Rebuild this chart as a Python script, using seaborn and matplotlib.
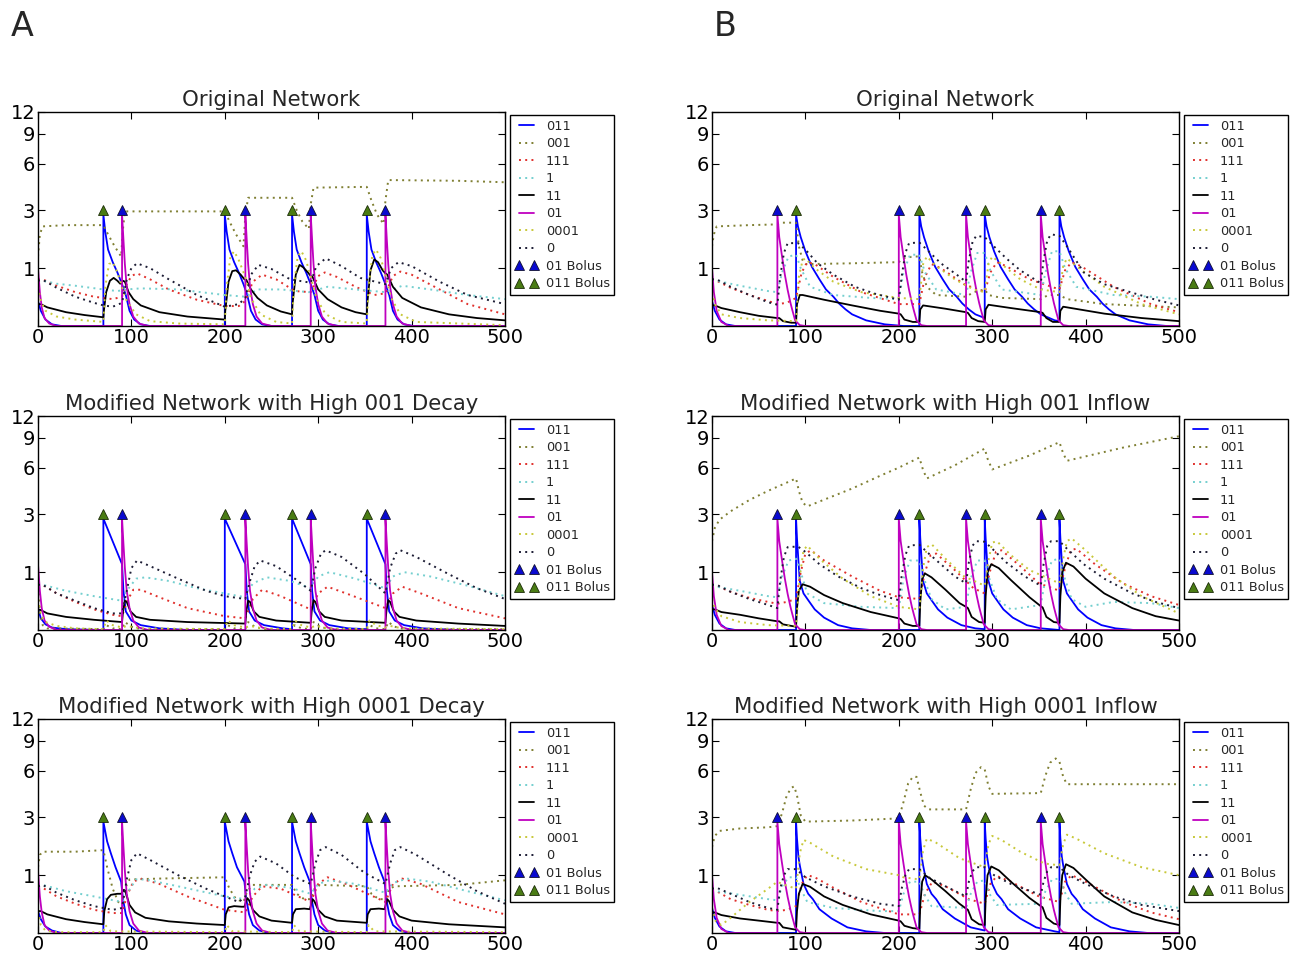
import matplotlib
matplotlib.use("Agg")
import numpy as np
import matplotlib.pyplot as plt
import seaborn as sns

# species in legend order
SPECIES = ["011", "001", "111", "1", "11", "01", "0001", "0"]
COLORS = {"011": "#0000ff", "001": "#7f7f32", "111": "#e0302c", "1": "#74cfcf",
          "11": "#000000", "01": "#bf00bf", "0001": "#c8c83a", "0": "#1c1c34"}
DOTTED = (0, (1, 2.2))
STYLES = {"011": "-", "001": DOTTED, "111": DOTTED, "1": DOTTED,
          "11": "-", "01": "-", "0001": DOTTED, "0": DOTTED}

TITLES = ["Original Network",
          "Modified Network with High 001 Decay",
          "Modified Network with High 0001 Decay",
          "Original Network",
          "Modified Network with High 001 Inflow",
          "Modified Network with High 0001 Inflow"]

A_BOLUS_01 = [90, 222, 292, 372]
A_BOLUS_011 = [70, 200, 272, 352]
B_BOLUS_01 = [70, 200, 272, 352]
B_BOLUS_011 = [90, 222, 292, 372]
BOLUS_LEVEL = [3, 3, 3, 3]

Y_TICKS = [1, 3, 6, 9, 12]
X_TICKS = [0, 100, 200, 300, 400, 500]

# ---------------- column A, Original Network ----------------
A1_011 = [(0, 0.35), (3, 0.2), (8, 0.08), (15, 0.02), (25, 0),
          (70, 0), (70, 2.8), (72, 2.1), (75, 1.5), (80, 1.15), (85, 0.9), (90, 0.65), (94, 0.45), (98, 0.2), (103, 0.08), (110, 0.02), (120, 0),
          (200, 0), (200, 2.8), (202, 2.1), (205, 1.5), (210, 1.15), (215, 0.9), (220, 0.65), (224, 0.45), (228, 0.2), (233, 0.08), (240, 0.02), (250, 0),
          (272, 0), (272, 2.8), (274, 2.1), (277, 1.5), (282, 1.15), (287, 0.9), (292, 0.65), (296, 0.45), (300, 0.2), (305, 0.08), (312, 0.02), (322, 0),
          (352, 0), (352, 2.8), (354, 2.1), (357, 1.5), (362, 1.15), (367, 0.9), (372, 0.65), (376, 0.45), (380, 0.2), (385, 0.08), (392, 0.02), (402, 0), (500, 0)]
A1_001 = [(0, 1.3), (2, 2.0), (5, 2.3), (30, 2.35), (70, 2.35), (75, 2.0), (82, 1.6), (89, 1.3), (91, 2.2), (93, 2.95),
          (200, 2.95), (205, 2.5), (212, 2.0), (220, 1.6), (222, 2.8), (225, 3.65), (272, 3.65), (277, 3.0), (283, 2.5), (290, 2.2),
          (292, 3.3), (295, 4.25), (352, 4.3), (357, 3.5), (363, 2.8), (370, 2.4), (372, 3.5), (375, 4.75), (450, 4.7), (500, 4.6)]
A1_111 = [(0, 0.75), (5, 0.75), (20, 0.62), (40, 0.5), (60, 0.42), (70, 0.4), (80, 0.38), (90, 0.42), (95, 0.65), (100, 0.82), (106, 0.88),
          (120, 0.75), (140, 0.55), (170, 0.37), (200, 0.27), (215, 0.27), (222, 0.35), (230, 0.7), (240, 0.85), (255, 0.75), (275, 0.52),
          (292, 0.5), (300, 0.82), (307, 0.9), (320, 0.8), (340, 0.6), (360, 0.45), (372, 0.48), (380, 0.82), (388, 0.92), (400, 0.85),
          (430, 0.55), (460, 0.3), (500, 0.15)]
A1_1 = [(0, 0.72), (5, 0.72), (20, 0.66), (40, 0.62), (70, 0.55), (85, 0.52), (95, 0.55), (110, 0.57), (150, 0.55), (200, 0.45),
        (222, 0.42), (235, 0.55), (260, 0.55), (290, 0.5), (310, 0.6), (340, 0.55), (372, 0.5), (390, 0.62), (420, 0.55), (460, 0.45), (500, 0.38)]
A1_11 = [(0, 0.3), (3, 0.3), (10, 0.25), (30, 0.18), (50, 0.14), (70, 0.11), (70.5, 0.2), (73, 0.5), (77, 0.72), (81, 0.78), (85, 0.72),
         (88, 0.66), (91, 0.72), (93, 0.7), (97, 0.5), (102, 0.38), (110, 0.28), (130, 0.18), (160, 0.12), (200, 0.08), (200.5, 0.2),
         (204, 0.7), (208, 0.93), (212, 0.95), (217, 0.85), (221, 0.75), (223, 0.74), (228, 0.55), (235, 0.4), (245, 0.28), (260, 0.19),
         (272, 0.15), (272.5, 0.3), (276, 0.85), (280, 1.08), (284, 1.02), (289, 0.9), (292, 0.82), (294, 0.8), (300, 0.55), (310, 0.38),
         (325, 0.25), (340, 0.18), (352, 0.15), (352.5, 0.3), (356, 0.95), (360, 1.22), (364, 1.15), (369, 0.95), (372, 0.88), (374, 0.85),
         (380, 0.6), (390, 0.4), (410, 0.25), (440, 0.15), (470, 0.1), (500, 0.07)]
A1_01 = [(0, 1.0), (2, 0.5), (4, 0.25), (7, 0.1), (12, 0.03), (20, 0),
         (90, 0), (90, 2.8), (91.5, 1.8), (93, 1.1), (95, 0.6), (98, 0.3), (102, 0.12), (108, 0.03), (118, 0),
         (222, 0), (222, 2.8), (223.5, 1.8), (225, 1.1), (227, 0.6), (230, 0.3), (234, 0.12), (240, 0.03), (250, 0),
         (292, 0), (292, 2.8), (293.5, 1.8), (295, 1.1), (297, 0.6), (300, 0.3), (304, 0.12), (310, 0.03), (320, 0),
         (372, 0), (372, 2.8), (373.5, 1.8), (375, 1.1), (377, 0.6), (380, 0.3), (384, 0.12), (390, 0.03), (400, 0), (500, 0)]
A1_0001 = [(0, 0.6), (3, 0.35), (8, 0.2), (20, 0.12), (40, 0.08), (70, 0.05), (72, 0.6), (76, 1.1), (80, 1.15), (85, 0.9), (90, 0.6),
           (95, 0.35), (105, 0.15), (120, 0.06), (150, 0.03), (200, 0.02), (202, 0.6), (206, 1.3), (210, 1.45), (215, 1.2), (222, 0.8),
           (228, 0.4), (238, 0.15), (255, 0.05), (272, 0.03), (274, 0.6), (278, 1.3), (282, 1.45), (287, 1.2), (292, 0.8), (298, 0.4),
           (308, 0.15), (325, 0.05), (352, 0.03), (354, 0.6), (358, 1.35), (362, 1.5), (367, 1.25), (372, 0.85), (378, 0.4), (388, 0.15),
           (405, 0.05), (500, 0.01)]
A1_0 = [(0, 0.72), (5, 0.74), (20, 0.58), (40, 0.42), (60, 0.32), (70, 0.28), (80, 0.26), (90, 0.32), (95, 0.75), (100, 1.0), (106, 1.12),
        (120, 1.0), (140, 0.75), (170, 0.45), (200, 0.26), (215, 0.3), (222, 0.4), (228, 0.85), (236, 1.08), (250, 0.98), (270, 0.75),
        (292, 0.68), (298, 1.05), (308, 1.25), (325, 1.05), (345, 0.78), (372, 0.65), (378, 1.0), (386, 1.15), (400, 1.05), (430, 0.7),
        (460, 0.45), (500, 0.3)]

# ---------------- column A, High 001 Decay ----------------
A2_011 = [(0, 0.3), (3, 0.15), (8, 0.07), (15, 0.03), (30, 0.01), (70, 0),
          (70, 2.8), (90, 1.2), (91.5, 0.6), (94, 0.25), (100, 0.12), (110, 0.06), (130, 0.02), (160, 0), (200, 0),
          (200, 2.8), (222, 1.2), (223.5, 0.6), (226, 0.25), (232, 0.12), (242, 0.06), (262, 0.02), (272, 0.01),
          (272, 2.8), (292, 1.2), (293.5, 0.6), (296, 0.25), (302, 0.12), (312, 0.06), (332, 0.02), (352, 0.01),
          (352, 2.8), (372, 1.2), (373.5, 0.6), (376, 0.25), (382, 0.12), (392, 0.06), (412, 0.02), (450, 0), (500, 0)]
A2_001 = [(0, 0.8), (2, 0.25), (5, 0.06), (10, 0.02), (70, 0.01), (73, 0.06), (80, 0.02), (90, 0.01), (93, 0.1), (100, 0.04), (110, 0.01),
          (200, 0.01), (203, 0.06), (210, 0.02), (222, 0.01), (225, 0.1), (232, 0.04), (242, 0.01), (272, 0.01), (275, 0.06), (282, 0.02),
          (292, 0.01), (295, 0.1), (302, 0.04), (312, 0.01), (352, 0.01), (355, 0.06), (362, 0.02), (372, 0.01), (375, 0.1), (382, 0.04),
          (392, 0.01), (500, 0.01)]
A2_111 = [(0, 0.72), (5, 0.72), (20, 0.55), (40, 0.4), (60, 0.28), (80, 0.2), (90, 0.18), (95, 0.4), (102, 0.62), (110, 0.62), (130, 0.48),
          (160, 0.3), (200, 0.18), (222, 0.15), (230, 0.45), (240, 0.62), (260, 0.5), (292, 0.28), (300, 0.55), (310, 0.68), (330, 0.55),
          (372, 0.3), (380, 0.55), (390, 0.68), (410, 0.55), (450, 0.3), (500, 0.15)]
A2_1 = [(0, 0.72), (5, 0.72), (30, 0.6), (60, 0.5), (90, 0.42), (95, 0.6), (105, 0.85), (115, 0.88), (140, 0.8), (170, 0.65), (200, 0.55),
        (222, 0.48), (230, 0.75), (245, 0.88), (270, 0.8), (292, 0.65), (300, 0.9), (312, 1.0), (340, 0.85), (372, 0.65), (380, 0.9),
        (392, 1.0), (420, 0.9), (460, 0.7), (500, 0.5)]
A2_11 = [(0, 0.28), (3, 0.27), (10, 0.22), (30, 0.17), (60, 0.13), (90, 0.1), (91, 0.25), (93, 0.42), (95, 0.4), (99, 0.25), (105, 0.17),
         (120, 0.13), (160, 0.1), (222, 0.08), (223, 0.25), (225, 0.42), (227, 0.4), (231, 0.25), (237, 0.17), (255, 0.12), (292, 0.09),
         (293, 0.25), (295, 0.43), (297, 0.4), (301, 0.25), (307, 0.17), (325, 0.12), (372, 0.09), (373, 0.25), (375, 0.43), (377, 0.4),
         (381, 0.25), (387, 0.17), (405, 0.12), (450, 0.08), (500, 0.05)]
A2_01 = [(0, 1.2), (2, 0.6), (4, 0.3), (7, 0.12), (12, 0.04), (20, 0),
         (90, 0), (90, 2.8), (91.5, 1.8), (93, 1.1), (95, 0.6), (98, 0.3), (102, 0.12), (108, 0.03), (118, 0),
         (222, 0), (222, 2.8), (223.5, 1.8), (225, 1.1), (227, 0.6), (230, 0.3), (234, 0.12), (240, 0.03), (250, 0),
         (292, 0), (292, 2.8), (293.5, 1.8), (295, 1.1), (297, 0.6), (300, 0.3), (304, 0.12), (310, 0.03), (320, 0),
         (372, 0), (372, 2.8), (373.5, 1.8), (375, 1.1), (377, 0.6), (380, 0.3), (384, 0.12), (390, 0.03), (400, 0), (500, 0)]
A2_0001 = [(0, 0.45), (3, 0.2), (8, 0.1), (20, 0.05), (40, 0.02), (70, 0.01), (73, 0.12), (80, 0.06), (90, 0.03), (95, 0.05), (110, 0.02),
           (200, 0.01), (203, 0.12), (210, 0.06), (222, 0.03), (227, 0.05), (240, 0.02), (272, 0.01), (275, 0.12), (282, 0.06), (292, 0.03),
           (297, 0.05), (310, 0.02), (352, 0.01), (355, 0.12), (362, 0.06), (372, 0.03), (377, 0.05), (390, 0.02), (500, 0.01)]
A2_0 = [(0, 0.72), (5, 0.72), (20, 0.55), (40, 0.42), (60, 0.3), (80, 0.22), (90, 0.22), (95, 0.6), (100, 1.1), (106, 1.3), (120, 1.15),
        (150, 0.85), (180, 0.6), (200, 0.5), (222, 0.45), (227, 0.8), (232, 1.15), (238, 1.3), (255, 1.15), (275, 0.85), (292, 0.6),
        (297, 1.1), (303, 1.5), (308, 1.6), (325, 1.4), (350, 0.95), (372, 0.55), (377, 1.1), (383, 1.5), (388, 1.6), (405, 1.4),
        (440, 0.95), (470, 0.65), (500, 0.45)]

# ---------------- column A, High 0001 Decay ----------------
A3_011 = [(0, 0.3), (3, 0.18), (8, 0.08), (15, 0.03), (25, 0),
          (70, 0), (70, 2.8), (74, 2.0), (78, 1.6), (83, 1.2), (89, 0.85), (91, 0.5), (94, 0.25), (98, 0.1), (105, 0.03), (115, 0),
          (200, 0), (200, 2.8), (204, 2.0), (208, 1.6), (213, 1.2), (221, 0.85), (223, 0.5), (226, 0.25), (230, 0.1), (237, 0.03), (247, 0),
          (272, 0), (272, 2.8), (276, 2.0), (280, 1.6), (285, 1.2), (291, 0.85), (293, 0.5), (296, 0.25), (300, 0.1), (307, 0.03), (317, 0),
          (352, 0), (352, 2.8), (356, 2.0), (360, 1.6), (365, 1.2), (371, 0.85), (373, 0.5), (376, 0.25), (380, 0.1), (387, 0.03), (397, 0), (500, 0)]
A3_001 = [(0, 1.2), (2, 1.55), (5, 1.65), (40, 1.65), (70, 1.7), (74, 1.2), (80, 0.7), (86, 0.45), (90, 0.4), (93, 0.7), (98, 0.9), (130, 0.92),
          (200, 0.95), (205, 0.7), (212, 0.5), (220, 0.45), (224, 0.65), (230, 0.78), (272, 0.78), (277, 0.6), (285, 0.5), (292, 0.5),
          (296, 0.7), (302, 0.78), (352, 0.75), (357, 0.6), (365, 0.5), (372, 0.5), (376, 0.7), (382, 0.75), (450, 0.78), (500, 0.88)]
A3_111 = [(0, 0.72), (5, 0.72), (20, 0.55), (40, 0.42), (60, 0.32), (80, 0.27), (90, 0.27), (95, 0.55), (102, 0.85), (110, 0.92), (130, 0.8),
          (160, 0.55), (200, 0.32), (222, 0.28), (230, 0.55), (240, 0.75), (260, 0.7), (292, 0.45), (300, 0.8), (310, 0.95), (330, 0.8),
          (372, 0.45), (380, 0.8), (390, 0.92), (410, 0.8), (450, 0.45), (500, 0.25)]
A3_1 = [(0, 0.75), (5, 0.78), (30, 0.65), (60, 0.55), (90, 0.45), (95, 0.6), (105, 0.9), (115, 0.9), (150, 0.75), (200, 0.55), (222, 0.5),
        (232, 0.7), (245, 0.78), (270, 0.72), (292, 0.6), (300, 0.8), (312, 0.88), (340, 0.8), (372, 0.62), (380, 0.82), (395, 0.92),
        (420, 0.85), (460, 0.65), (500, 0.48)]
A3_11 = [(0, 0.3), (3, 0.3), (10, 0.25), (30, 0.18), (50, 0.14), (70, 0.11), (71, 0.3), (74, 0.5), (78, 0.58), (85, 0.6), (89, 0.6), (92, 0.68),
         (94, 0.62), (98, 0.4), (104, 0.28), (115, 0.2), (140, 0.15), (170, 0.12), (200, 0.1), (201, 0.25), (204, 0.36), (210, 0.38),
         (218, 0.37), (221, 0.37), (224, 0.52), (226, 0.48), (230, 0.32), (237, 0.22), (250, 0.16), (272, 0.13), (273, 0.25), (276, 0.33),
         (285, 0.34), (291, 0.33), (294, 0.5), (296, 0.46), (300, 0.32), (307, 0.22), (320, 0.16), (352, 0.13), (353, 0.25), (356, 0.33),
         (365, 0.34), (371, 0.33), (374, 0.5), (376, 0.46), (380, 0.32), (387, 0.22), (400, 0.16), (440, 0.11), (500, 0.07)]
A3_01 = [(0, 1.1), (2, 0.55), (4, 0.28), (7, 0.1), (12, 0.03), (20, 0),
         (90, 0), (90, 2.8), (91.5, 1.8), (93, 1.1), (95, 0.6), (98, 0.3), (102, 0.12), (108, 0.03), (118, 0),
         (222, 0), (222, 2.8), (223.5, 1.8), (225, 1.1), (227, 0.6), (230, 0.3), (234, 0.12), (240, 0.03), (250, 0),
         (292, 0), (292, 2.8), (293.5, 1.8), (295, 1.1), (297, 0.6), (300, 0.3), (304, 0.12), (310, 0.03), (320, 0),
         (372, 0), (372, 2.8), (373.5, 1.8), (375, 1.1), (377, 0.6), (380, 0.3), (384, 0.12), (390, 0.03), (400, 0), (500, 0)]
A3_0001 = [(0, 0.3), (3, 0.1), (8, 0.03), (20, 0.01), (70, 0.01), (72, 0.1), (78, 0.02), (200, 0.01), (202, 0.1), (208, 0.02),
           (272, 0.01), (274, 0.1), (280, 0.02), (352, 0.01), (354, 0.1), (360, 0.02), (500, 0.01)]
A3_0 = [(0, 0.75), (5, 0.78), (20, 0.62), (40, 0.48), (60, 0.38), (80, 0.32), (90, 0.35), (95, 0.9), (100, 1.4), (106, 1.6), (120, 1.4),
        (150, 1.0), (180, 0.7), (200, 0.55), (215, 0.45), (222, 0.55), (227, 1.0), (232, 1.35), (238, 1.5), (255, 1.3), (275, 0.95),
        (292, 0.8), (297, 1.3), (302, 1.7), (308, 1.8), (325, 1.55), (350, 1.05), (372, 0.8), (377, 1.3), (382, 1.7), (388, 1.8),
        (405, 1.55), (440, 1.0), (470, 0.65), (500, 0.42)]

# ---------------- column B, Original Network ----------------
B1_011 = [(0, 0.35), (3, 0.2), (8, 0.08), (15, 0.02), (25, 0),
          (90, 0), (90, 2.8), (92, 2.3), (95, 1.9), (100, 1.45), (107, 1.03), (115, 0.75), (122, 0.55), (130, 0.42), (136, 0.31),
          (143, 0.22), (150, 0.15), (165, 0.07), (185, 0.02), (205, 0),
          (222, 0), (222, 2.8), (224, 2.3), (227, 1.9), (232, 1.45), (239, 1.03), (247, 0.75), (254, 0.55), (262, 0.42), (268, 0.31),
          (275, 0.22), (282, 0.15), (292, 0.1),
          (292, 2.8), (294, 2.3), (297, 1.9), (302, 1.45), (309, 1.03), (317, 0.75), (324, 0.55), (332, 0.42), (338, 0.31), (345, 0.22),
          (352, 0.15), (367, 0.07), (372, 0.06),
          (372, 2.8), (374, 2.3), (377, 1.9), (382, 1.45), (389, 1.03), (397, 0.75), (404, 0.55), (412, 0.42), (418, 0.31), (425, 0.22),
          (432, 0.15), (447, 0.07), (467, 0.02), (487, 0), (500, 0)]
B1_001 = [(0, 1.6), (2, 2.0), (5, 2.3), (40, 2.35), (70, 2.38), (75, 2.45), (90, 2.45), (93, 1.6), (97, 1.2), (100, 1.1), (150, 1.12),
          (200, 1.15), (205, 1.25), (215, 1.3), (222, 1.3), (225, 0.9), (230, 0.6), (240, 0.45), (272, 0.42), (280, 0.5), (292, 0.55),
          (296, 0.45), (310, 0.4), (352, 0.38), (360, 0.45), (372, 0.45), (380, 0.38), (420, 0.3), (500, 0.25)]
B1_111 = [(0, 0.75), (5, 0.72), (20, 0.58), (40, 0.45), (60, 0.35), (70, 0.3), (80, 0.32), (90, 0.4), (96, 0.9), (102, 1.15), (110, 1.1),
          (130, 0.8), (160, 0.5), (200, 0.3), (222, 0.3), (228, 0.8), (235, 1.1), (245, 1.0), (270, 0.65), (292, 0.5), (298, 0.9),
          (305, 1.15), (315, 1.05), (340, 0.75), (372, 0.55), (378, 0.95), (385, 1.15), (395, 1.05), (430, 0.6), (470, 0.3), (500, 0.18)]
B1_1 = [(0, 0.72), (5, 0.72), (30, 0.62), (60, 0.52), (70, 0.5), (75, 0.9), (82, 1.3), (90, 1.35), (95, 1.0), (105, 0.6), (130, 0.45),
        (170, 0.4), (200, 0.38), (205, 0.9), (212, 1.35), (222, 1.35), (228, 0.9), (240, 0.55), (272, 0.45), (277, 0.9), (284, 1.4),
        (292, 1.4), (298, 0.95), (310, 0.55), (352, 0.45), (357, 0.9), (364, 1.45), (372, 1.45), (378, 1.0), (390, 0.6), (430, 0.45),
        (470, 0.42), (500, 0.38)]
B1_11 = [(0, 0.28), (3, 0.28), (10, 0.24), (30, 0.18), (50, 0.13), (70, 0.1), (72, 0.1), (76, 0.06), (85, 0.04), (90, 0.04), (91, 0.3),
         (94, 0.45), (97, 0.45), (120, 0.37), (150, 0.28), (180, 0.2), (200, 0.16), (202, 0.15), (206, 0.08), (215, 0.05), (222, 0.05),
         (223, 0.22), (226, 0.28), (250, 0.23), (272, 0.18), (274, 0.17), (278, 0.1), (285, 0.06), (292, 0.05), (293, 0.22), (296, 0.29),
         (320, 0.24), (352, 0.18), (354, 0.17), (358, 0.1), (365, 0.05), (372, 0.05), (373, 0.2), (376, 0.26), (420, 0.16), (460, 0.1),
         (500, 0.06)]
B1_01 = [(0, 1.0), (2, 0.5), (5, 0.2), (10, 0.05), (18, 0),
         (70, 0), (70, 2.8), (72, 1.9), (75, 1.3), (78, 0.85), (81, 0.54), (84, 0.32), (86, 0.21), (89, 0.07), (94, 0.01), (100, 0),
         (200, 0), (200, 2.8), (202, 1.9), (205, 1.3), (208, 0.85), (211, 0.54), (214, 0.32), (216, 0.21), (219, 0.07), (224, 0.01), (230, 0),
         (272, 0), (272, 2.8), (274, 1.9), (277, 1.3), (280, 0.85), (283, 0.54), (286, 0.32), (288, 0.21), (291, 0.07), (296, 0.01), (302, 0),
         (352, 0), (352, 2.8), (354, 1.9), (357, 1.3), (360, 0.85), (363, 0.54), (366, 0.32), (368, 0.21), (371, 0.07), (376, 0.01), (382, 0), (500, 0)]
B1_0001 = [(0, 0.5), (3, 0.3), (10, 0.15), (30, 0.1), (60, 0.07), (90, 0.06), (93, 0.8), (97, 1.2), (100, 1.25), (110, 1.0), (130, 0.7),
           (160, 0.5), (200, 0.4), (222, 0.38), (226, 1.1), (230, 1.3), (240, 1.05), (260, 0.75), (280, 0.55), (292, 0.5), (296, 1.1),
           (300, 1.3), (310, 1.1), (330, 0.75), (352, 0.55), (372, 0.5), (376, 1.05), (380, 1.25), (390, 1.05), (420, 0.6), (460, 0.3),
           (500, 0.15)]
B1_0 = [(0, 0.75), (5, 0.75), (20, 0.6), (40, 0.45), (60, 0.33), (70, 0.29), (73, 0.8), (77, 1.4), (81, 1.7), (92, 1.7), (100, 1.5),
        (113, 1.12), (130, 0.85), (153, 0.6), (175, 0.47), (200, 0.37), (203, 0.8), (207, 1.4), (211, 1.7), (222, 1.72), (230, 1.5),
        (245, 1.12), (262, 0.85), (272, 0.7), (275, 1.2), (279, 1.75), (283, 1.95), (292, 1.9), (300, 1.65), (315, 1.25), (330, 0.95),
        (352, 0.67), (355, 1.2), (359, 1.8), (363, 2.0), (372, 1.95), (380, 1.6), (398, 0.9), (420, 0.65), (452, 0.48), (475, 0.37),
        (500, 0.28)]

# ---------------- column B, High 001 Inflow ----------------
B2_011 = [(0, 0.35), (3, 0.2), (8, 0.08), (15, 0.02), (25, 0),
          (90, 0), (90, 2.8), (91, 2.0), (92.5, 1.3), (94, 0.8), (98, 0.55), (103, 0.43), (110, 0.28), (120, 0.16), (135, 0.06), (150, 0.02), (170, 0),
          (222, 0), (222, 2.8), (223, 2.0), (224.5, 1.3), (226, 0.8), (230, 0.55), (235, 0.43), (242, 0.28), (252, 0.16), (267, 0.06), (282, 0.02), (292, 0.01),
          (292, 2.8), (293, 2.0), (294.5, 1.3), (296, 0.8), (300, 0.55), (305, 0.43), (312, 0.28), (322, 0.16), (337, 0.06), (352, 0.02), (372, 0),
          (372, 2.8), (373, 2.0), (374.5, 1.3), (376, 0.8), (380, 0.55), (385, 0.43), (392, 0.28), (402, 0.16), (417, 0.06), (432, 0.02), (452, 0), (500, 0)]
B2_001 = [(0, 1.9), (3, 2.4), (8, 2.75), (20, 3.15), (40, 3.75), (60, 4.3), (80, 4.85), (90, 5.15), (93, 4.3), (97, 3.6), (102, 3.4),
          (150, 4.45), (180, 5.35), (200, 6.0), (222, 6.9), (226, 5.8), (230, 5.15), (260, 6.2), (292, 7.8), (295, 6.8), (300, 5.85),
          (340, 7.1), (372, 8.5), (376, 7.3), (380, 6.6), (440, 7.9), (500, 9.2)]
B2_111 = [(0, 0.7), (5, 0.7), (20, 0.58), (40, 0.47), (60, 0.4), (70, 0.37), (80, 0.4), (90, 0.45), (95, 1.0), (100, 1.5), (106, 1.6),
          (120, 1.3), (150, 0.9), (180, 0.6), (200, 0.48), (222, 0.45), (228, 1.0), (234, 1.45), (240, 1.5), (260, 1.05), (280, 0.65),
          (292, 0.55), (298, 1.05), (304, 1.55), (310, 1.6), (330, 1.15), (350, 0.75), (372, 0.6), (378, 1.1), (384, 1.6), (390, 1.65),
          (410, 1.2), (440, 0.75), (470, 0.5), (500, 0.35)]
B2_1 = [(0, 0.65), (5, 0.68), (30, 0.6), (60, 0.5), (70, 0.48), (75, 0.9), (82, 1.3), (90, 1.35), (95, 1.0), (102, 0.55), (120, 0.38),
        (160, 0.32), (200, 0.3), (205, 0.85), (212, 1.3), (222, 1.3), (227, 0.85), (235, 0.45), (250, 0.28), (272, 0.32), (277, 0.85),
        (284, 1.3), (292, 1.3), (297, 0.85), (305, 0.45), (320, 0.28), (352, 0.35), (357, 0.85), (364, 1.3), (372, 1.35), (377, 0.9),
        (385, 0.45), (400, 0.32), (430, 0.4), (470, 0.38), (500, 0.3)]
B2_11 = [(0, 0.28), (3, 0.28), (10, 0.24), (30, 0.2), (50, 0.15), (70, 0.11), (72, 0.11), (76, 0.07), (85, 0.05), (90, 0.04), (91, 0.3),
         (93, 0.6), (97, 0.73), (105, 0.68), (120, 0.52), (140, 0.38), (170, 0.24), (200, 0.15), (202, 0.14), (206, 0.08), (215, 0.05),
         (222, 0.05), (223, 0.4), (225, 0.85), (228, 0.97), (235, 0.88), (250, 0.62), (265, 0.38), (272, 0.32), (274, 0.3), (278, 0.17),
         (286, 0.1), (292, 0.09), (293, 0.5), (295, 1.0), (299, 1.2), (307, 1.1), (320, 0.82), (340, 0.48), (352, 0.33), (354, 0.31),
         (358, 0.17), (366, 0.1), (372, 0.09), (373, 0.5), (375, 1.0), (379, 1.24), (387, 1.14), (400, 0.85), (420, 0.55), (450, 0.3),
         (475, 0.18), (500, 0.12)]
B2_01 = B1_01
B2_0001 = [(0, 0.45), (3, 0.3), (10, 0.18), (30, 0.1), (60, 0.06), (90, 0.05), (94, 0.9), (98, 1.6), (102, 1.75), (115, 1.35), (140, 0.85),
           (170, 0.5), (200, 0.32), (222, 0.28), (226, 1.1), (230, 1.7), (235, 1.8), (250, 1.35), (270, 0.9), (292, 0.7), (296, 1.3),
           (300, 1.85), (305, 1.9), (320, 1.45), (340, 1.05), (372, 0.75), (376, 1.35), (380, 1.9), (385, 2.0), (400, 1.6), (430, 0.9),
           (460, 0.5), (500, 0.22)]
B2_0 = [(0, 0.72), (5, 0.72), (20, 0.58), (40, 0.45), (60, 0.35), (70, 0.3), (73, 0.8), (77, 1.4), (81, 1.7), (92, 1.72), (100, 1.55),
        (115, 1.2), (135, 0.9), (160, 0.65), (180, 0.52), (200, 0.43), (203, 0.9), (207, 1.45), (211, 1.75), (222, 1.78), (230, 1.55),
        (245, 1.2), (260, 0.9), (272, 0.75), (275, 1.25), (279, 1.75), (283, 1.9), (292, 1.88), (300, 1.65), (315, 1.25), (335, 0.9),
        (352, 0.7), (355, 1.2), (359, 1.75), (363, 1.9), (372, 1.9), (380, 1.65), (398, 1.2), (420, 0.85), (450, 0.55), (475, 0.4),
        (500, 0.3)]

# ---------------- column B, High 0001 Inflow ----------------
B3_011 = [(0, 0.35), (3, 0.2), (8, 0.08), (15, 0.02), (25, 0),
          (90, 0), (90, 2.8), (91, 2.1), (92.5, 1.5), (94, 1.25), (98, 0.8), (103, 0.6), (108, 0.5), (115, 0.33), (128, 0.19), (145, 0.07), (165, 0.02), (185, 0),
          (222, 0), (222, 2.8), (223, 2.1), (224.5, 1.5), (226, 1.25), (230, 0.8), (235, 0.6), (240, 0.5), (247, 0.33), (260, 0.19), (277, 0.07), (292, 0.03),
          (292, 2.8), (293, 2.1), (294.5, 1.5), (296, 1.25), (300, 0.8), (305, 0.6), (310, 0.5), (317, 0.33), (330, 0.19), (347, 0.07), (367, 0.02), (372, 0.01),
          (372, 2.8), (373, 2.1), (374.5, 1.5), (376, 1.25), (380, 0.8), (385, 0.6), (390, 0.5), (397, 0.33), (410, 0.19), (427, 0.07), (447, 0.02), (467, 0), (500, 0)]
B3_001 = [(0, 1.8), (3, 2.2), (8, 2.4), (30, 2.5), (60, 2.55), (70, 2.6), (75, 3.2), (80, 4.2), (85, 4.7), (88, 4.8), (91, 4.2), (95, 3.1),
          (100, 2.8), (150, 2.85), (200, 2.95), (205, 3.8), (210, 5.0), (215, 5.5), (219, 5.5), (223, 4.4), (227, 3.6), (232, 3.4),
          (272, 3.4), (277, 4.6), (282, 5.8), (288, 6.3), (292, 6.1), (296, 4.8), (300, 4.3), (352, 4.35), (357, 5.6), (362, 6.7),
          (368, 7.1), (372, 6.8), (376, 5.5), (380, 4.95), (500, 4.95)]
B3_111 = [(0, 0.65), (5, 0.65), (20, 0.5), (40, 0.4), (60, 0.32), (70, 0.3), (80, 0.32), (90, 0.38), (96, 0.8), (102, 1.0), (110, 0.95),
          (130, 0.72), (160, 0.45), (200, 0.25), (222, 0.25), (228, 0.6), (236, 0.85), (250, 0.75), (275, 0.5), (292, 0.42), (298, 0.8),
          (305, 0.98), (320, 0.85), (350, 0.55), (372, 0.45), (378, 0.85), (385, 1.0), (400, 0.85), (440, 0.45), (470, 0.28), (500, 0.18)]
B3_1 = [(0, 0.62), (5, 0.65), (30, 0.58), (60, 0.5), (70, 0.48), (75, 0.75), (82, 0.95), (90, 0.95), (95, 0.7), (102, 0.45), (130, 0.35),
        (180, 0.3), (200, 0.3), (205, 0.6), (212, 0.85), (222, 0.85), (227, 0.6), (235, 0.38), (272, 0.35), (277, 0.6), (284, 0.85),
        (292, 0.88), (297, 0.6), (305, 0.4), (352, 0.42), (357, 0.65), (364, 0.9), (372, 0.92), (377, 0.65), (385, 0.42), (430, 0.45),
        (470, 0.42), (500, 0.35)]
B3_11 = [(0, 0.28), (3, 0.28), (10, 0.24), (30, 0.19), (50, 0.16), (70, 0.13), (72, 0.13), (76, 0.07), (85, 0.05), (90, 0.04), (91, 0.3),
         (93, 0.6), (97, 0.8), (105, 0.74), (120, 0.55), (140, 0.4), (170, 0.25), (200, 0.16), (202, 0.15), (206, 0.09), (215, 0.06),
         (222, 0.05), (223, 0.4), (225, 0.85), (228, 1.0), (235, 0.9), (250, 0.65), (265, 0.42), (272, 0.34), (274, 0.32), (278, 0.18),
         (286, 0.11), (292, 0.1), (293, 0.5), (295, 1.0), (299, 1.22), (307, 1.12), (320, 0.85), (340, 0.52), (352, 0.38), (354, 0.36),
         (358, 0.2), (366, 0.12), (372, 0.1), (373, 0.5), (375, 1.0), (379, 1.28), (387, 1.18), (400, 0.9), (420, 0.55), (450, 0.28),
         (475, 0.17), (500, 0.1)]
B3_01 = B1_01
B3_0001 = [(0, 0.35), (4, 0.15), (10, 0.1), (20, 0.2), (40, 0.45), (60, 0.7), (70, 0.85), (75, 0.8), (90, 0.7), (94, 1.6), (98, 2.05),
           (105, 1.95), (130, 1.5), (165, 1.15), (200, 1.0), (205, 0.95), (222, 0.9), (226, 1.7), (230, 2.1), (240, 1.95), (265, 1.45),
           (292, 1.2), (296, 1.9), (300, 2.2), (310, 2.05), (330, 1.65), (352, 1.35), (356, 1.3), (372, 1.25), (376, 1.9), (380, 2.25),
           (390, 2.1), (420, 1.6), (460, 1.2), (500, 1.0)]
B3_0 = [(0, 0.7), (5, 0.72), (20, 0.6), (40, 0.45), (60, 0.35), (70, 0.32), (73, 0.7), (77, 1.0), (81, 1.15), (90, 1.15), (100, 0.95),
        (120, 0.75), (150, 0.55), (180, 0.42), (200, 0.38), (203, 0.7), (207, 1.0), (211, 1.15), (222, 1.15), (232, 0.95), (250, 0.75),
        (272, 0.55), (275, 0.85), (279, 1.1), (283, 1.2), (292, 1.2), (302, 1.0), (320, 0.8), (352, 0.58), (355, 0.85), (359, 1.1),
        (363, 1.2), (372, 1.2), (382, 1.0), (400, 0.8), (430, 0.55), (460, 0.4), (500, 0.3)]

PANELS = [
    (TITLES[0], [A1_011, A1_001, A1_111, A1_1, A1_11, A1_01, A1_0001, A1_0], A_BOLUS_01, A_BOLUS_011),
    (TITLES[1], [A2_011, A2_001, A2_111, A2_1, A2_11, A2_01, A2_0001, A2_0], A_BOLUS_01, A_BOLUS_011),
    (TITLES[2], [A3_011, A3_001, A3_111, A3_1, A3_11, A3_01, A3_0001, A3_0], A_BOLUS_01, A_BOLUS_011),
    (TITLES[3], [B1_011, B1_001, B1_111, B1_1, B1_11, B1_01, B1_0001, B1_0], B_BOLUS_01, B_BOLUS_011),
    (TITLES[4], [B2_011, B2_001, B2_111, B2_1, B2_11, B2_01, B2_0001, B2_0], B_BOLUS_01, B_BOLUS_011),
    (TITLES[5], [B3_011, B3_001, B3_111, B3_1, B3_11, B3_01, B3_0001, B3_0], B_BOLUS_01, B_BOLUS_011),
]

sns.set_style("ticks")
plt.rcParams["font.family"] = ["DejaVu Sans"]

W, H = 1292, 956
fig = plt.figure(figsize=(W / 100, H / 100), dpi=100)

col_left = [38, 712]
row_top = [112, 416, 719]
ax_w, ax_h = 467, 214


def draw_panel(ax, title, series, bolus01, bolus011):
    for name, pts in zip(SPECIES, series):
        t = [p[0] for p in pts]
        v = [p[1] for p in pts]
        lw = 1.3 if STYLES[name] == "-" else 1.4
        sns.lineplot(x=t, y=v, ax=ax, color=COLORS[name], linestyle=STYLES[name],
                     linewidth=lw, label=name, estimator=None, sort=False)
    sns.lineplot(x=bolus01, y=BOLUS_LEVEL, ax=ax, color="#0a0ad0", marker="^", linestyle="",
                 markersize=7.5, markeredgecolor="#101030", markeredgewidth=0.6,
                 label="01 Bolus", estimator=None, sort=False)
    sns.lineplot(x=bolus011, y=BOLUS_LEVEL, ax=ax, color="#4a7c14", marker="^", linestyle="",
                 markersize=7.5, markeredgecolor="#1c2c08", markeredgewidth=0.6,
                 label="011 Bolus", estimator=None, sort=False)

    ax.set_yscale("function", functions=(np.log1p, np.expm1))
    ax.set_xlim(0, 500)
    ax.set_ylim(0, 12)
    ax.set_xticks(X_TICKS)
    ax.set_yticks(Y_TICKS)
    ax.set_yticklabels([str(y) for y in Y_TICKS])
    ax.minorticks_off()
    ax.tick_params(direction="in", top=True, right=True, length=5, width=0.8,
                   labelsize=14, pad=2, colors="k")
    ax.tick_params(axis="x", pad=1.5)
    for s in ax.spines.values():
        s.set_visible(True)
        s.set_color("k")
        s.set_linewidth(1.0)
    ax.set_xlabel("")
    ax.set_ylabel("")
    ax.set_title(title, fontsize=15.3, pad=4)
    leg = ax.legend(loc="upper left", bbox_to_anchor=(1.011, 0.986), borderaxespad=0,
                    fontsize=9.3, numpoints=2, frameon=True, fancybox=False,
                    edgecolor="k", framealpha=1, handlelength=1.8, handletextpad=0.6,
                    labelspacing=0.35, borderpad=0.35)
    leg.get_frame().set_linewidth(1.0)


for i, (title, series, b01, b011) in enumerate(PANELS):
    col = i // 3
    row = i % 3
    left = col_left[col] / W
    bottom = 1 - (row_top[row] + ax_h) / H
    ax = fig.add_axes([left, bottom, ax_w / W, ax_h / H])
    draw_panel(ax, title, series, b01, b011)

fig.text(22 / W, 1 - 26 / H, "A", fontsize=24, ha="center", va="center")
fig.text(725 / W, 1 - 26 / H, "B", fontsize=24, ha="center", va="center")

fig.savefig("out.png", dpi=100)
